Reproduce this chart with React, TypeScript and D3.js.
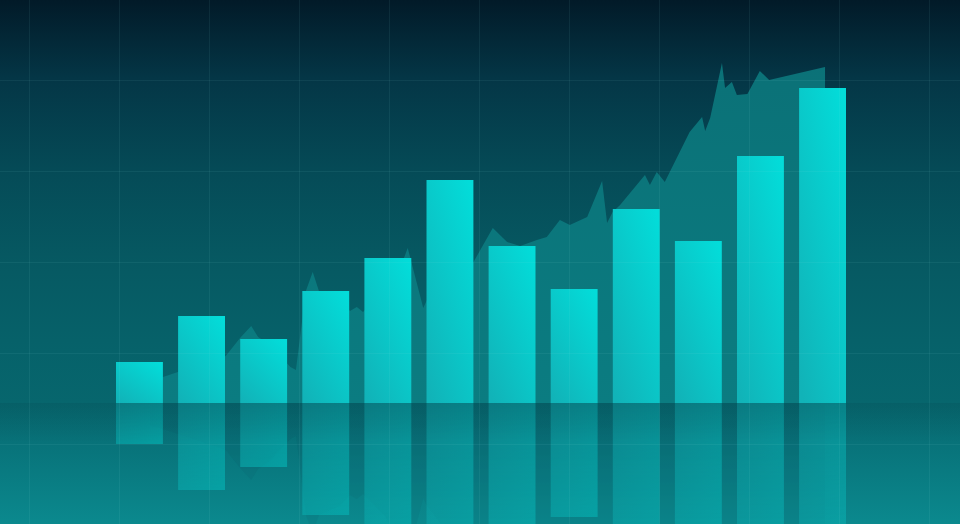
import React from "react";
import * as d3 from "d3";

const W = 960;
const H = 524;

// Bar categories and values (value units == px height above baseline)
const categories = ["1", "2", "3", "4", "5", "6", "7", "8", "9", "10", "11", "12"];
const barValues = [41, 87, 64, 112, 145, 223, 157, 114, 194, 162, 247, 315];

// Background area series: position (in category steps) and value
const areaX = [0.67, 0.88, 1.12, 1.89, 2.12, 2.3, 2.41, 2.6, 2.93, 3.02, 3.18, 3.29, 3.39, 3.73, 3.89, 4.0, 4.1, 4.45, 4.76, 4.82, 5.07, 5.13, 5.5, 5.87, 6.19, 6.42, 6.63, 6.9, 7.06, 7.27, 7.43, 7.71, 7.95, 8.03, 8.12, 8.24, 8.64, 8.72, 8.83, 8.96, 9.36, 9.56, 9.61, 9.69, 9.88, 9.93, 10.04, 10.12, 10.29, 10.49, 10.64, 11.54];
const areaY = [23, 26, 31, 47, 65, 77, 66, 58, 36, 33, 112, 131, 112, 103, 92, 96, 91, 113, 145, 155, 95, 103, 133, 140, 175, 161, 157, 163, 166, 183, 178, 186, 222, 180, 191, 198, 228, 218, 231, 221, 271, 286, 272, 285, 340, 315, 321, 308, 309, 332, 323, 336];

const gridXTicks = [0, 1, 2, 3, 4, 5, 6, 7, 8, 9, 10];
const gridYTicks = [0, 1, 2, 3, 4, 5];

export default function App() {
  const baseline = 403;
  const x = d3
    .scaleBand<string>()
    .domain(categories)
    .range([108.4, 853.6])
    .paddingInner(0.245)
    .paddingOuter(0.1225);
  const xa = d3.scaleLinear().domain([0, 12]).range([108.4, 853.6]);
  const y = d3.scaleLinear().domain([0, 350]).range([baseline, baseline - 350]);

  const gx = d3.scaleLinear().domain([0, 10]).range([29, 929]);
  const gy = d3.scaleLinear().domain([0, 5]).range([80, 535]);

  const pts: [number, number][] = areaX.map((t, i) => [t, areaY[i]]);
  const lastT = areaX[areaX.length - 1];
  const areaGen = d3
    .area<[number, number]>()
    .x((d) => xa(d[0]))
    .y0(y(0))
    .y1((d) => y(d[1]))
    .curve(d3.curveLinear);
  const areaPath = areaGen([...pts, [lastT, 0]]) || "";

  const bars = categories.map((c, i) => ({
    x: x(c) as number,
    w: x.bandwidth(),
    y: y(barValues[i]),
    h: y(0) - y(barValues[i]),
  }));

  return (
    <svg
      width={W}
      height={H}
      style={{ position: "absolute", left: 0, top: 0, display: "block" }}
    >
      <defs>
        <linearGradient id="bg" x1="0" y1="0" x2="0" y2={H} gradientUnits="userSpaceOnUse">
          <stop offset="0" stopColor="#021a28" />
          <stop offset="0.15" stopColor="#043646" />
          <stop offset="0.33" stopColor="#054b57" />
          <stop offset="0.5" stopColor="#065962" />
          <stop offset="0.67" stopColor="#06626a" />
          <stop offset="0.77" stopColor="#07666d" />
          <stop offset="0.85" stopColor="#08737a" />
          <stop offset="1" stopColor="#0b898e" />
        </linearGradient>
        <linearGradient id="barG" x1="0.9" y1="0" x2="0.1" y2="1">
          <stop offset="0" stopColor="#03dcd9" />
          <stop offset="1" stopColor="#11b3b8" />
        </linearGradient>
        <linearGradient id="areaG" x1="0" y1="53" x2="0" y2={baseline} gradientUnits="userSpaceOnUse">
          <stop offset="0" stopColor="#0b7177" />
          <stop offset="1" stopColor="#0b7c81" />
        </linearGradient>
        <linearGradient id="reflFade" x1="0" y1={baseline} x2="0" y2={H} gradientUnits="userSpaceOnUse">
          <stop offset="0" stopColor="#fff" stopOpacity="0.9" />
          <stop offset="1" stopOpacity="0.65" stopColor="#fff" />
        </linearGradient>
        <mask id="reflMask" maskUnits="userSpaceOnUse" x="0" y={baseline} width={W} height={H - baseline}>
          <rect x={0} y={baseline} width={W} height={H - baseline} fill="url(#reflFade)" />
        </mask>
        <linearGradient id="baseShade" x1="0" y1={baseline} x2="0" y2={baseline + 40} gradientUnits="userSpaceOnUse">
          <stop offset="0" stopColor="#03414a" stopOpacity="0.18" />
          <stop offset="1" stopColor="#03414a" stopOpacity="0" />
        </linearGradient>
      </defs>

      <rect x={0} y={0} width={W} height={H} fill="url(#bg)" />

      {/* background area */}
      <path d={areaPath} fill="url(#areaG)" />

      {/* bars */}
      {bars.map((b, i) => (
        <rect key={"b" + i} x={b.x} y={b.y} width={b.w} height={b.h} fill="url(#barG)" />
      ))}

      {/* reflection */}
      <g mask="url(#reflMask)">
        <g transform={`translate(0, ${2 * baseline}) scale(1, -1)`}>
          <path d={areaPath} fill="#04505a" opacity={0.14} />
          {bars.map((b, i) => (
            <rect key={"r" + i} x={b.x} y={b.y} width={b.w} height={b.h} fill="url(#barG)" opacity={0.5} />
          ))}
        </g>
      </g>
      <rect x={0} y={baseline} width={W} height={40} fill="url(#baseShade)" />

      {/* grid (faint, over everything) */}
      <g stroke="#8fe6e8" strokeOpacity={0.075} strokeWidth={1}>
        {gridXTicks.map((t) => (
          <line key={"gx" + t} x1={gx(t) + 0.5} x2={gx(t) + 0.5} y1={0} y2={H} />
        ))}
        {gridYTicks.map((t) => (
          <line key={"gy" + t} x1={0} x2={W} y1={gy(t) + 0.5} y2={gy(t) + 0.5} />
        ))}
      </g>
    </svg>
  );
}
